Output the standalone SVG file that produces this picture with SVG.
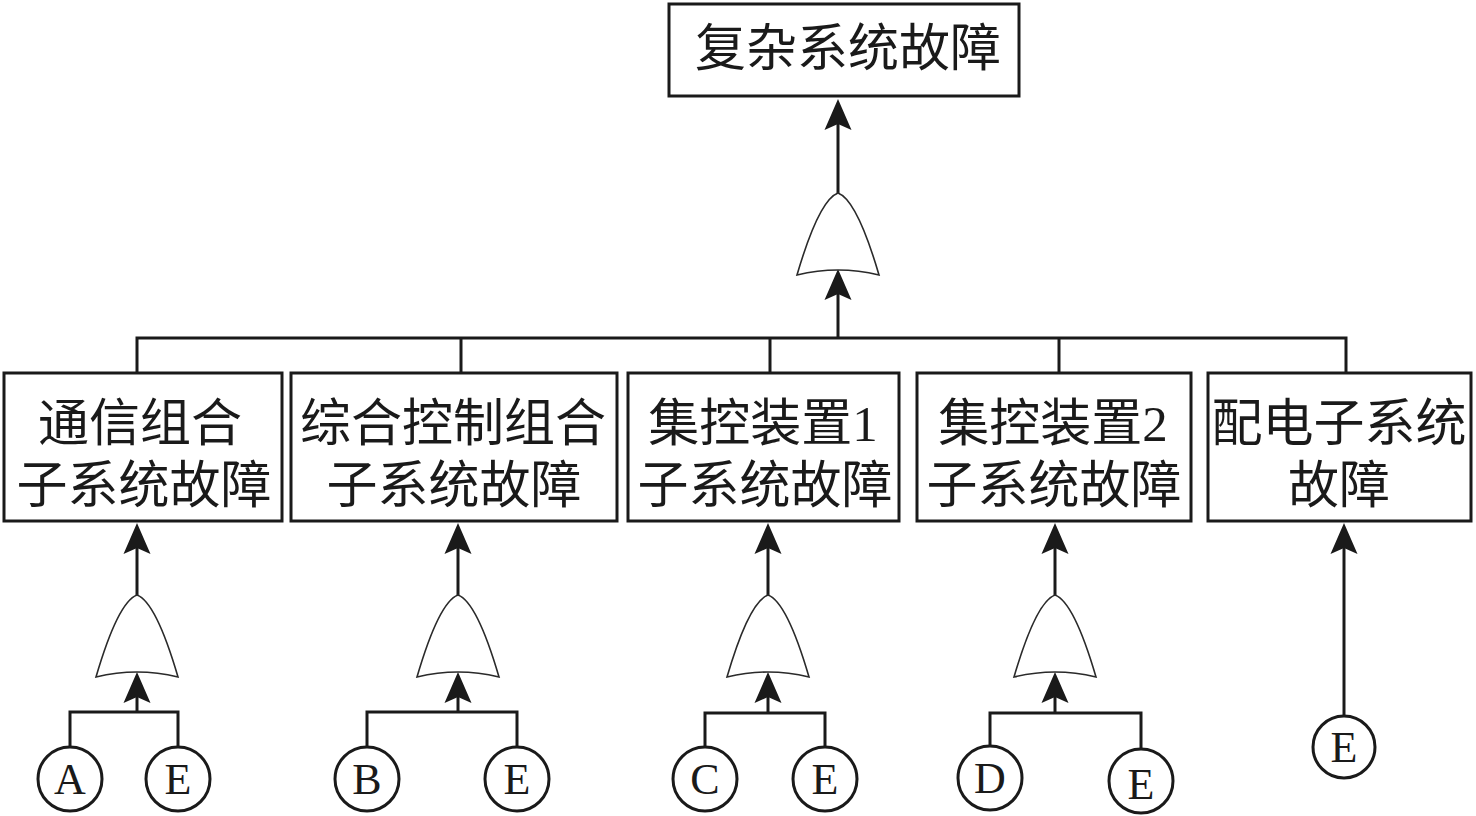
<svg xmlns="http://www.w3.org/2000/svg" xmlns:xlink="http://www.w3.org/1999/xlink" width="1476" height="816" viewBox="0 0 1476 816">
<style>
.box{fill:#fff;stroke:#1a1a1a;stroke-width:3}
.ln{fill:none;stroke:#1a1a1a;stroke-width:3}
.gate{fill:#fff;stroke:#2a2a2a;stroke-width:1.6}
.circ{fill:#fff;stroke:#1a1a1a;stroke-width:3}
.t{font-family:"Liberation Serif","Noto Sans CJK SC",serif;font-size:51px;fill:#1a1a1a;text-anchor:middle}
.lt{font-family:"Liberation Serif",serif;font-size:44px;fill:#1a1a1a;text-anchor:middle}
</style>
<defs>
<path id="ah" d="M0,0 L13.5,31 L0,25 L-13.5,31 Z" fill="#1a1a1a"/>
<path id="or" d="M-41,82 Q-19,7 0,0 Q19,7 41,82 Q0,72 -41,82 Z"/>
</defs>
<g id="connectors">
<line class="ln" x1="838" y1="194" x2="838" y2="120"/>
<use href="#ah" x="838" y="99"/>
<line class="ln" x1="838" y1="338" x2="838" y2="290"/>
<use href="#ah" x="838" y="269"/>
<polyline class="ln" points="137,372 137,338 1346,338 1346,372"/>
<line class="ln" x1="461" y1="338" x2="461" y2="372"/>
<line class="ln" x1="770" y1="338" x2="770" y2="372"/>
<line class="ln" x1="1059" y1="338" x2="1059" y2="372"/>
<!-- group 1 -->
<line class="ln" x1="137" y1="595" x2="137" y2="545"/>
<use href="#ah" x="137" y="523"/>
<line class="ln" x1="137" y1="712" x2="137" y2="694"/>
<use href="#ah" x="137" y="672"/>
<polyline class="ln" points="70,747 70,712 178,712 178,747"/>
<!-- group 2 -->
<line class="ln" x1="458" y1="595" x2="458" y2="545"/>
<use href="#ah" x="458" y="523"/>
<line class="ln" x1="458" y1="712" x2="458" y2="694"/>
<use href="#ah" x="458" y="672"/>
<polyline class="ln" points="367,747 367,712 517,712 517,747"/>
<!-- group 3 -->
<line class="ln" x1="768" y1="595" x2="768" y2="545"/>
<use href="#ah" x="768" y="523"/>
<line class="ln" x1="768" y1="713" x2="768" y2="694"/>
<use href="#ah" x="768" y="672"/>
<polyline class="ln" points="705,747 705,713 825,713 825,747"/>
<!-- group 4 -->
<line class="ln" x1="1055" y1="595" x2="1055" y2="545"/>
<use href="#ah" x="1055" y="523"/>
<line class="ln" x1="1055" y1="713" x2="1055" y2="694"/>
<use href="#ah" x="1055" y="672"/>
<polyline class="ln" points="990,746 990,713 1141,713 1141,749"/>
<!-- group 5 -->
<line class="ln" x1="1344" y1="716" x2="1344" y2="545"/>
<use href="#ah" x="1344" y="523"/>
</g>
<g id="gates">
<use href="#or" class="gate" x="838" y="193"/>
<use href="#or" class="gate" x="137" y="595"/>
<use href="#or" class="gate" x="458" y="595"/>
<use href="#or" class="gate" x="768" y="595"/>
<use href="#or" class="gate" x="1055" y="595"/>
</g>
<g id="top">
<rect class="box" x="669" y="4" width="350" height="92"/>
<text class="t" x="848" y="66" font-size="52">复杂系统故障</text>
</g>
<g id="n1">
<rect class="box" x="4" y="373" width="278" height="148"/>
<text class="t" x="140" y="441">通信组合</text>
<text class="t" x="144" y="503">子系统故障</text>
</g>
<g id="n2">
<rect class="box" x="291" y="373" width="326" height="148"/>
<text class="t" x="453" y="441">综合控制组合</text>
<text class="t" x="454" y="503">子系统故障</text>
</g>
<g id="n3">
<rect class="box" x="628" y="373" width="271" height="148"/>
<text class="t" x="763" y="441">集控装置1</text>
<text class="t" x="765" y="503">子系统故障</text>
</g>
<g id="n4">
<rect class="box" x="917" y="373" width="274" height="148"/>
<text class="t" x="1053" y="441">集控装置2</text>
<text class="t" x="1054" y="503">子系统故障</text>
</g>
<g id="n5">
<rect class="box" x="1208" y="373" width="263" height="148"/>
<text class="t" x="1339" y="441">配电子系统</text>
<text class="t" x="1339" y="503">故障</text>
</g>
<g id="eA"><circle class="circ" cx="70" cy="779" r="32"/><text class="lt" x="70" y="794">A</text></g>
<g id="eE1"><circle class="circ" cx="178" cy="779" r="32"/><text class="lt" x="178" y="794">E</text></g>
<g id="eB"><circle class="circ" cx="367" cy="779" r="32"/><text class="lt" x="367" y="794">B</text></g>
<g id="eE2"><circle class="circ" cx="517" cy="779" r="32"/><text class="lt" x="517" y="794">E</text></g>
<g id="eC"><circle class="circ" cx="705" cy="779" r="32"/><text class="lt" x="705" y="794">C</text></g>
<g id="eE3"><circle class="circ" cx="825" cy="779" r="32"/><text class="lt" x="825" y="794">E</text></g>
<g id="eD"><circle class="circ" cx="990" cy="778" r="32"/><text class="lt" x="990" y="793">D</text></g>
<g id="eE4"><circle class="circ" cx="1141" cy="781" r="32"/><text class="lt" x="1141" y="799">E</text></g>
<g id="eE5"><circle class="circ" cx="1344" cy="747" r="31"/><text class="lt" x="1344" y="762">E</text></g>
</svg>
